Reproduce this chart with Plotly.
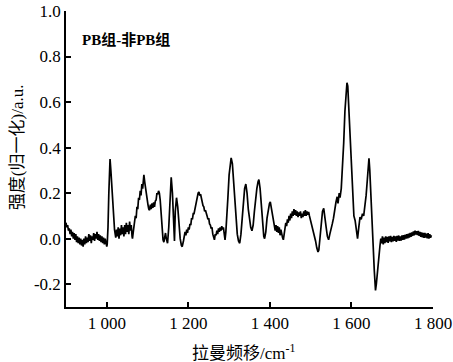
import plotly.graph_objects as go

# (Raman shift cm^-1, normalised intensity), by region
seg_900_1065 = [
    (900, 0.07), (902, 0.05), (904, 0.06), (906, 0.035), (908, 0.045), (910, 0.02), (912, 0.04), (914, 0.01),
    (916, 0.03), (918, 0.0), (920, 0.025), (922, -0.005), (924, 0.02), (926, -0.015), (928, 0.01), (930, -0.02),
    (932, 0.005), (934, -0.025), (936, 0.0), (938, -0.03), (940, -0.005), (942, -0.035), (944, 0.0), (946, -0.025),
    (948, 0.01), (950, -0.02), (952, 0.005), (954, -0.015), (956, 0.02), (958, -0.01), (960, 0.015), (962, -0.02),
    (964, 0.01), (966, -0.005), (968, 0.025), (970, -0.01), (972, 0.02), (974, 0.0), (976, 0.03), (978, -0.005),
    (980, 0.02), (982, -0.01), (984, 0.015), (986, -0.015), (988, 0.01), (990, -0.02), (992, 0.005), (994, -0.025),
    (996, 0.0), (998, -0.03), (1000, -0.035), (1001, -0.025),
    (1003, 0.05), (1005, 0.2), (1007, 0.33), (1008, 0.35), (1010, 0.3), (1013, 0.2), (1016, 0.1), (1019, 0.04),
    (1022, 0.005), (1024, 0.04), (1026, 0.01), (1028, 0.05), (1030, 0.0), (1032, 0.045), (1034, 0.015), (1036, 0.06),
    (1038, 0.02), (1040, 0.05), (1042, 0.01), (1044, 0.06), (1046, 0.02), (1048, 0.07), (1050, 0.03), (1052, 0.06),
    (1054, 0.02), (1056, 0.075), (1058, 0.035), (1060, 0.06), (1062, 0.01), (1063, 0.0), (1065, 0.03),
]

seg_1066_1190 = [
    (1066, 0.05), (1068, 0.07), (1070, 0.1), (1072, 0.09), (1074, 0.14), (1076, 0.13), (1078, 0.18), (1080, 0.17),
    (1082, 0.21), (1084, 0.19), (1086, 0.24), (1088, 0.22), (1090, 0.27), (1091, 0.28), (1093, 0.25), (1095, 0.22),
    (1097, 0.19), (1099, 0.17), (1101, 0.15), (1103, 0.13), (1105, 0.125), (1107, 0.15), (1109, 0.13), (1111, 0.155),
    (1113, 0.135), (1115, 0.16), (1117, 0.14), (1119, 0.165), (1121, 0.17), (1123, 0.2), (1125, 0.195), (1127, 0.21),
    (1129, 0.2), (1131, 0.17), (1133, 0.12), (1135, 0.06), (1138, -0.005), (1140, -0.015), (1142, 0.01), (1144, 0.025),
    (1146, 0.0), (1149, -0.02), (1152, 0.05), (1155, 0.2), (1158, 0.27), (1161, 0.2), (1164, 0.08), (1166, -0.01),
    (1168, 0.12), (1171, 0.18), (1174, 0.14), (1177, 0.06), (1180, 0.0), (1183, -0.03), (1185, -0.035), (1188, -0.01),
]

seg_1190_1330 = [
    (1190, 0.01), (1192, 0.03), (1194, 0.015), (1196, 0.04), (1198, 0.025), (1200, 0.05), (1202, 0.04), (1204, 0.065),
    (1206, 0.06), (1208, 0.09), (1210, 0.085), (1212, 0.11), (1214, 0.11), (1216, 0.13), (1218, 0.15), (1220, 0.17),
    (1222, 0.18), (1224, 0.2), (1226, 0.205), (1228, 0.19), (1230, 0.195), (1232, 0.175), (1234, 0.165), (1236, 0.145),
    (1238, 0.14), (1240, 0.12), (1242, 0.125), (1244, 0.105), (1246, 0.1), (1248, 0.085), (1250, 0.09), (1252, 0.065),
    (1254, 0.06), (1256, 0.045), (1258, 0.05), (1260, 0.02), (1262, 0.01), (1264, -0.005), (1266, 0.02), (1268, 0.015),
    (1270, 0.035), (1272, 0.02), (1274, 0.045), (1276, 0.03), (1278, 0.05), (1280, 0.035), (1282, 0.055), (1284, 0.04),
    (1286, 0.05), (1288, 0.02), (1290, -0.005), (1292, 0.03), (1294, 0.08), (1297, 0.18), (1300, 0.28), (1303, 0.33),
    (1305, 0.355), (1308, 0.33), (1311, 0.25), (1314, 0.15), (1317, 0.07), (1320, 0.02), (1323, -0.01), (1326, -0.02),
    (1329, 0.02),
]

seg_1330_1500 = [
    (1332, 0.1), (1335, 0.17), (1338, 0.22), (1341, 0.24), (1344, 0.2), (1347, 0.13), (1350, 0.08), (1353, 0.05),
    (1356, 0.035), (1359, 0.06), (1362, 0.12), (1365, 0.18), (1368, 0.22), (1371, 0.25), (1373, 0.26), (1376, 0.22),
    (1379, 0.14), (1382, 0.06), (1385, 0.01), (1387, 0.0), (1390, 0.03), (1393, 0.09), (1396, 0.13), (1399, 0.155),
    (1401, 0.162), (1404, 0.13), (1407, 0.09), (1410, 0.06), (1413, 0.035), (1415, 0.06), (1417, 0.03), (1419, 0.055),
    (1421, 0.025), (1423, 0.05), (1425, 0.015), (1427, 0.04), (1429, 0.01), (1431, 0.005), (1433, -0.005), (1435, 0.02),
    (1437, 0.045), (1439, 0.07), (1441, 0.055), (1443, 0.085), (1445, 0.07), (1447, 0.1), (1449, 0.08), (1451, 0.11),
    (1453, 0.09), (1455, 0.12), (1457, 0.1), (1459, 0.13), (1461, 0.105), (1463, 0.125), (1465, 0.1), (1467, 0.12),
    (1469, 0.095), (1471, 0.115), (1473, 0.1), (1475, 0.12), (1477, 0.09), (1479, 0.11), (1481, 0.095), (1483, 0.12),
    (1485, 0.1), (1487, 0.125), (1489, 0.1), (1491, 0.12), (1493, 0.105), (1495, 0.118), (1497, 0.1),
]

seg_1500_1670 = [
    (1500, 0.08), (1503, 0.06), (1506, 0.04), (1509, 0.02), (1512, -0.01), (1515, -0.04), (1518, -0.058), (1520, -0.05),
    (1523, 0.02), (1526, 0.08), (1529, 0.12), (1532, 0.133), (1535, 0.1), (1538, 0.05), (1541, 0.01), (1544, -0.005),
    (1547, 0.02), (1550, 0.05), (1553, 0.065), (1556, 0.09), (1559, 0.13), (1562, 0.16), (1565, 0.184), (1567, 0.155),
    (1570, 0.2), (1572, 0.18), (1575, 0.22), (1578, 0.3), (1581, 0.42), (1584, 0.56), (1587, 0.66), (1589, 0.685),
    (1591, 0.67), (1594, 0.56), (1597, 0.42), (1600, 0.28), (1603, 0.17), (1606, 0.1), (1609, 0.08), (1612, 0.04),
    (1615, 0.0), (1618, 0.05), (1621, 0.095), (1624, 0.085), (1627, 0.11), (1630, 0.1), (1633, 0.14), (1636, 0.19),
    (1639, 0.26), (1641, 0.33), (1643, 0.353), (1645, 0.3), (1647, 0.2), (1650, 0.08), (1653, -0.02), (1656, -0.14),
    (1659, -0.227), (1661, -0.2), (1664, -0.13), (1667, -0.08),
]

seg_1670_1796 = [
    (1670, -0.03), (1672, 0.0), (1674, -0.02), (1676, 0.01), (1678, -0.025), (1680, 0.005), (1682, -0.02), (1684, 0.01),
    (1686, -0.015), (1688, 0.008), (1690, -0.018), (1692, 0.01), (1694, -0.012), (1696, 0.012), (1698, -0.015), (1700, 0.008),
    (1702, -0.012), (1704, 0.012), (1706, -0.01), (1708, 0.01), (1710, -0.014), (1712, 0.012), (1714, -0.008), (1716, 0.014),
    (1718, -0.01), (1720, 0.01), (1722, -0.008), (1724, 0.015), (1726, -0.005), (1728, 0.016), (1730, -0.004), (1732, 0.018),
    (1734, 0.0), (1736, 0.02), (1738, 0.002), (1740, 0.022), (1742, 0.005), (1744, 0.025), (1746, 0.008), (1748, 0.028),
    (1750, 0.012), (1752, 0.032), (1754, 0.015), (1756, 0.035), (1758, 0.018), (1760, 0.033), (1762, 0.016), (1764, 0.034),
    (1766, 0.012), (1768, 0.03), (1770, 0.008), (1772, 0.028), (1774, 0.006), (1776, 0.025), (1778, 0.004), (1780, 0.026),
    (1782, 0.005), (1784, 0.022), (1786, 0.002), (1788, 0.024), (1790, 0.0), (1792, 0.02), (1794, 0.004), (1796, 0.015),
]

spectrum = seg_900_1065 + seg_1066_1190 + seg_1190_1330 + seg_1330_1500 + seg_1500_1670 + seg_1670_1796
raman_shift = [p[0] for p in spectrum]
intensity = [p[1] for p in spectrum]

x_tick_vals = [1000, 1200, 1400, 1600, 1800]
x_tick_text = ["1 000", "1 200", "1 400", "1 600", "1 800"]
y_tick_vals = [-0.2, 0.0, 0.2, 0.4, 0.6, 0.8, 1.0]
y_tick_text = ["-0.2", "0.0", "0.2", "0.4", "0.6", "0.8", "1.0"]

serif = "Liberation Serif"
cjk = "Liberation Serif, Noto Sans CJK SC"

fig = go.Figure()
fig.add_trace(go.Scatter(
    x=raman_shift, y=intensity, mode="lines",
    line=dict(color="black", width=1.7),
    showlegend=False, hoverinfo="skip",
))

axis_style = dict(
    showline=True, linecolor="black", linewidth=1.5, mirror=False,
    ticks="inside", ticklen=5, tickwidth=1.5, tickcolor="black",
    showgrid=False, zeroline=False, automargin=False,
    tickfont=dict(family=serif, size=17, color="black"),
)

fig.update_layout(
    width=453, height=362,
    margin=dict(l=66, r=20, t=11, b=55),
    paper_bgcolor="white", plot_bgcolor="white",
    font=dict(family=serif, color="black", size=16),
    xaxis=dict(range=[900, 1800], tickvals=x_tick_vals, ticktext=x_tick_text, **axis_style),
    yaxis=dict(range=[-0.3, 1.0], tickvals=y_tick_vals, ticktext=y_tick_text, **axis_style),
    annotations=[
        dict(text="<b>PB组-非PB组</b>", xref="paper", yref="paper",
             x=0.039, y=0.903, xanchor="left", yanchor="middle", showarrow=False,
             font=dict(family=cjk, size=15, color="black")),
        dict(text="拉曼频移/cm<sup>-1</sup>", xref="paper", yref="paper",
             x=0.483, y=-0.152, xanchor="center", yanchor="middle", showarrow=False,
             font=dict(family=cjk, size=17, color="black")),
        dict(text="强度(归一化)/a.u.", xref="paper", yref="paper",
             x=-0.13, y=0.541, xanchor="center", yanchor="middle", showarrow=False,
             textangle=-90, font=dict(family=cjk, size=17, color="black")),
    ],
)

fig.write_html("out.html")
